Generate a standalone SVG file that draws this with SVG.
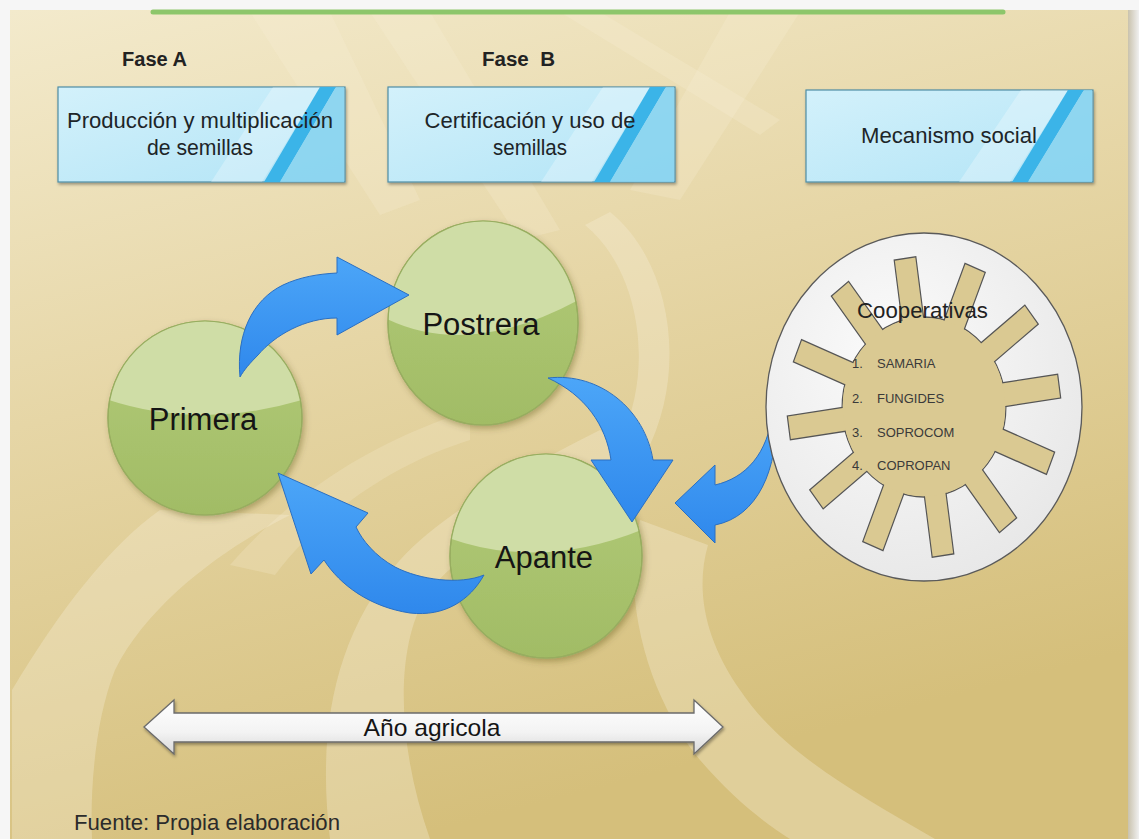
<svg xmlns="http://www.w3.org/2000/svg" width="1139" height="839" viewBox="0 0 1139 839">
<defs>
  <linearGradient id="bg" x1="0" y1="0" x2="0.35" y2="1">
    <stop offset="0" stop-color="#f3eacc"/>
    <stop offset="0.45" stop-color="#e6d6a6"/>
    <stop offset="1" stop-color="#d5bf7b"/>
  </linearGradient>
  <linearGradient id="boxg" x1="0" y1="0" x2="1" y2="1">
    <stop offset="0" stop-color="#d3f1fb"/>
    <stop offset="1" stop-color="#b2e4f6"/>
  </linearGradient>
  <linearGradient id="green" x1="0" y1="0" x2="0" y2="1">
    <stop offset="0" stop-color="#b3cb7a"/>
    <stop offset="1" stop-color="#a1bc65"/>
  </linearGradient>
  <linearGradient id="blue" x1="0" y1="0" x2="0" y2="1">
    <stop offset="0" stop-color="#4ca6f8"/>
    <stop offset="1" stop-color="#2f88ec"/>
  </linearGradient>
  <linearGradient id="whiteg" x1="0" y1="0" x2="0" y2="1">
    <stop offset="0" stop-color="#ffffff"/>
    <stop offset="0.6" stop-color="#f3f3f3"/>
    <stop offset="1" stop-color="#d8d8d8"/>
  </linearGradient>
  <radialGradient id="disc" cx="0.4" cy="0.35" r="0.75">
    <stop offset="0" stop-color="#fbfbfb"/>
    <stop offset="1" stop-color="#e6e6e6"/>
  </radialGradient>
  <linearGradient id="rightedge" x1="0" y1="0" x2="1" y2="0">
    <stop offset="0" stop-color="#c9c2ad"/>
    <stop offset="1" stop-color="#f0f0f0"/>
  </linearGradient>
  <filter id="sh" x="-10%" y="-10%" width="130%" height="130%">
    <feDropShadow dx="1" dy="2" stdDeviation="1.5" flood-color="#000" flood-opacity="0.35"/>
  </filter>
  <filter id="shc" x="-20%" y="-20%" width="140%" height="140%">
    <feDropShadow dx="2" dy="3" stdDeviation="3" flood-color="#4a3f10" flood-opacity="0.35"/>
  </filter>
  <clipPath id="cPrimera"><circle cx="205" cy="418" r="97"/></clipPath>
  <clipPath id="cPostrera"><ellipse cx="483" cy="323" rx="95" ry="102"/></clipPath>
  <clipPath id="cApante"><ellipse cx="546" cy="556" rx="96" ry="102"/></clipPath>
  <style>
    .t { font-family: "Liberation Sans", Arial, sans-serif; }
    .box { fill: url(#boxg); stroke: #4f8ea6; stroke-width: 1.2; filter: url(#sh); }
    .hl { fill: #ffffff; opacity: 0.28; }
    .stripe { fill: #3bb4e8; }
    .rside { fill: #86d2ef; opacity: 0.85; }
    .boxtxt { font-size: 22px; fill: #1d2528; text-anchor: middle; }
    .fase { font-size: 20px; font-weight: bold; fill: #222; }
    .ball { fill: url(#green); stroke: #98ad60; stroke-width: 1.2; filter: url(#shc); }
    .gloss { fill: #cfdda6; }
    .btxt { font-size: 31px; fill: #151515; text-anchor: middle; }
    .arrow { fill: url(#blue); stroke: #2a6fc2; stroke-width: 1; }
    .band { fill: #f7eed5; opacity: 0.34; }
    .streak { fill: #f9f2dc; opacity: 0.22; }
    .spoke { fill: #dac992; stroke: #555; stroke-width: 1.3; }
    .coop { font-size: 13px; fill: #3a3a3a; }
  </style>
</defs>

<!-- page background -->
<rect x="0" y="0" width="1139" height="839" fill="#f6f6f6"/>
<rect x="10" y="10" width="1121" height="829" fill="url(#bg)"/>
<rect x="1128" y="10" width="11" height="829" fill="url(#rightedge)"/>

<!-- decorative light bands -->
<g id="bands">
  <path class="band" d="M 12 690 C 60 610, 110 545, 160 510 L 290 515 C 230 545, 150 600, 115 670 C 95 720, 90 790, 92 839 L 12 839 Z"/>
  <path class="band" d="M 330 839 C 318 740, 330 640, 400 560 C 440 515, 520 470, 600 430 L 640 460 C 560 500, 470 540, 430 590 C 395 640, 395 740, 430 839 Z"/>
  <path class="streak" d="M 230 565 C 300 485, 380 440, 470 410 L 470 440 C 390 465, 320 515, 275 575 Z"/>
  <path class="band" d="M 640 520 C 620 600, 650 700, 700 760 C 730 795, 760 820, 790 839 L 935 839 C 850 790, 780 750, 740 690 C 705 640, 695 590, 708 545 Z"/>
  <path class="band" d="M 585 225 C 640 270, 655 370, 620 440 L 645 455 C 690 370, 670 260, 610 212 Z"/>
  <path class="streak" d="M 250 12 L 330 12 L 420 200 L 380 215 Z"/>
  <path class="streak" d="M 370 12 L 430 12 L 560 230 L 520 240 Z"/>
  <path class="streak" d="M 730 12 L 800 12 L 680 200 L 630 190 Z"/>
  <path class="streak" d="M 560 12 L 600 12 L 780 120 L 760 135 Z"/>
</g>

<!-- top green rule -->
<line x1="153" y1="12" x2="1003" y2="12" stroke="#8dc66b" stroke-width="5" stroke-linecap="round"/>

<!-- phase labels -->
<text class="t fase" x="122" y="66" textLength="65" lengthAdjust="spacingAndGlyphs">Fase A</text>
<text class="t fase" x="482" y="66" textLength="73" lengthAdjust="spacingAndGlyphs" xml:space="preserve">Fase  B</text>

<!-- boxes -->
<g id="box-produccion">
  <rect class="box" x="58" y="87" width="287" height="95"/>
  <polygon class="hl" points="211,182 262,182 320,87 273,87"/>
  <polygon class="stripe" points="264,182 280,182 336,87 320,87"/>
  <polygon class="rside" points="280,182 344,182 344,87 336,87"/>
  <text class="t boxtxt" x="200" y="128" textLength="266" lengthAdjust="spacingAndGlyphs">Producción y multiplicación</text>
  <text class="t boxtxt" x="200" y="155" textLength="106" lengthAdjust="spacingAndGlyphs">de semillas</text>
</g>
<g id="box-certificacion">
  <rect class="box" x="388" y="87" width="287" height="95"/>
  <polygon class="hl" points="541,182 592,182 650,87 603,87"/>
  <polygon class="stripe" points="594,182 610,182 666,87 650,87"/>
  <polygon class="rside" points="610,182 674,182 674,87 666,87"/>
  <text class="t boxtxt" x="530" y="128" textLength="211" lengthAdjust="spacingAndGlyphs">Certificación y uso de</text>
  <text class="t boxtxt" x="530" y="155" textLength="74" lengthAdjust="spacingAndGlyphs">semillas</text>
</g>
<g id="box-mecanismo">
  <rect class="box" x="806" y="90" width="287" height="92"/>
  <polygon class="hl" points="959,182 1010,182 1068,90 1021,90"/>
  <polygon class="stripe" points="1012,182 1028,182 1084,90 1068,90"/>
  <polygon class="rside" points="1028,182 1092,182 1092,90 1084,90"/>
  <text class="t boxtxt" x="949" y="143" textLength="176" lengthAdjust="spacingAndGlyphs">Mecanismo social</text>
</g>

<!-- cycle nodes -->
<g id="node-primera">
  <circle class="ball" cx="205" cy="418" r="97"/>
  <path class="gloss" clip-path="url(#cPrimera)" d="M 100 397 Q 200 433 312 397 L 312 315 L 100 315 Z"/>
  <circle cx="205" cy="418" r="97" fill="none" stroke="#98ad60" stroke-width="1.2"/>
  <text class="t btxt" x="203" y="430">Primera</text>
</g>
<g id="node-postrera">
  <ellipse class="ball" cx="483" cy="323" rx="95" ry="102"/>
  <path class="gloss" clip-path="url(#cPostrera)" d="M 385 318 Q 470 360 582 298 L 582 215 L 385 215 Z"/>
  <ellipse cx="483" cy="323" rx="95" ry="102" fill="none" stroke="#98ad60" stroke-width="1.2"/>
  <text class="t btxt" x="481" y="335">Postrera</text>
</g>
<g id="node-apante">
  <ellipse class="ball" cx="546" cy="556" rx="96" ry="102"/>
  <path class="gloss" clip-path="url(#cApante)" d="M 446 537 Q 540 572 646 528 L 646 450 L 446 450 Z"/>
  <ellipse cx="546" cy="556" rx="96" ry="102" fill="none" stroke="#98ad60" stroke-width="1.2"/>
  <text class="t btxt" x="544" y="568">Apante</text>
</g>

<!-- connectors -->
<g id="connectors">
  <path class="arrow" d="M 240 377 C 236 335, 252 300, 283 285 C 300 277, 318 274, 337 273 L 337 257 L 409 295 L 337 335 L 337 318 C 305 318, 275 335, 258 355 C 250 363, 244 370, 240 377 Z"/>
  <path class="arrow" d="M 548 378 C 600 372, 645 410, 653 460 L 673 460 L 632 522 L 591 460 L 611 460 C 606 425, 585 395, 548 378 Z"/>
  <path class="arrow" d="M 484 575 C 460 585, 420 580, 395 567 C 375 556, 362 540, 356 527 L 368 513 L 278 473 L 311 574 L 324 560 C 340 585, 370 607, 410 613 C 445 617, 470 600, 484 575 Z"/>
  <path class="arrow" d="M 776 410 C 779 470, 757 517, 715 525 L 715 543 L 675 503 L 715 465 L 715 485 C 745 478, 768 455, 773 410 Z"/>
</g>

<!-- cooperativas node -->
<g id="node-cooperativas">
  <ellipse cx="924" cy="407" rx="158" ry="174" fill="url(#disc)" stroke="#5a5a5a" stroke-width="1.3"/>
  <g transform="translate(924,407) scale(0.91,1)">
    <circle r="90" fill="#dac992" stroke="#555" stroke-width="1.3"/>
    <g class="spoke">
      <rect x="68" y="-12" width="82" height="24" transform="rotate(-98)"/>
      <rect x="68" y="-12" width="82" height="24" transform="rotate(-68)"/>
      <rect x="68" y="-12" width="82" height="24" transform="rotate(-38)"/>
      <rect x="68" y="-12" width="82" height="24" transform="rotate(-8)"/>
      <rect x="68" y="-12" width="82" height="24" transform="rotate(22)"/>
      <rect x="68" y="-12" width="82" height="24" transform="rotate(52)"/>
      <rect x="68" y="-12" width="82" height="24" transform="rotate(82)"/>
      <rect x="68" y="-12" width="82" height="24" transform="rotate(112)"/>
      <rect x="68" y="-12" width="82" height="24" transform="rotate(142)"/>
      <rect x="68" y="-12" width="82" height="24" transform="rotate(172)"/>
      <rect x="68" y="-12" width="82" height="24" transform="rotate(202)"/>
      <rect x="68" y="-12" width="82" height="24" transform="rotate(232)"/>
    </g>
    <circle r="89.3" fill="#dac992"/>
  </g>
  <text class="t" x="857" y="318" font-size="22" fill="#222" textLength="131" lengthAdjust="spacingAndGlyphs">Cooperativas</text>
  <text class="t coop" x="852" y="368">1.</text><text class="t coop" x="877" y="368">SAMARIA</text>
  <text class="t coop" x="852" y="403">2.</text><text class="t coop" x="877" y="403">FUNGIDES</text>
  <text class="t coop" x="852" y="437">3.</text><text class="t coop" x="877" y="437">SOPROCOM</text>
  <text class="t coop" x="852" y="470">4.</text><text class="t coop" x="877" y="470">COPROPAN</text>
</g>

<!-- año agricola double arrow -->
<g id="node-anio">
  <path d="M 144 727 L 174 700 L 174 713 L 694 713 L 694 700 L 723 727 L 694 754 L 694 742 L 174 742 L 174 754 Z" fill="url(#whiteg)" stroke="#6b6b6b" stroke-width="1.3" filter="url(#sh)"/>
  <text class="t" x="432" y="736" font-size="24" fill="#151515" text-anchor="middle" textLength="137" lengthAdjust="spacingAndGlyphs">Año agricola</text>
</g>

<text class="t" x="74" y="830" font-size="22" fill="#2b2b2b" textLength="266" lengthAdjust="spacingAndGlyphs">Fuente: Propia elaboración</text>
</svg>
